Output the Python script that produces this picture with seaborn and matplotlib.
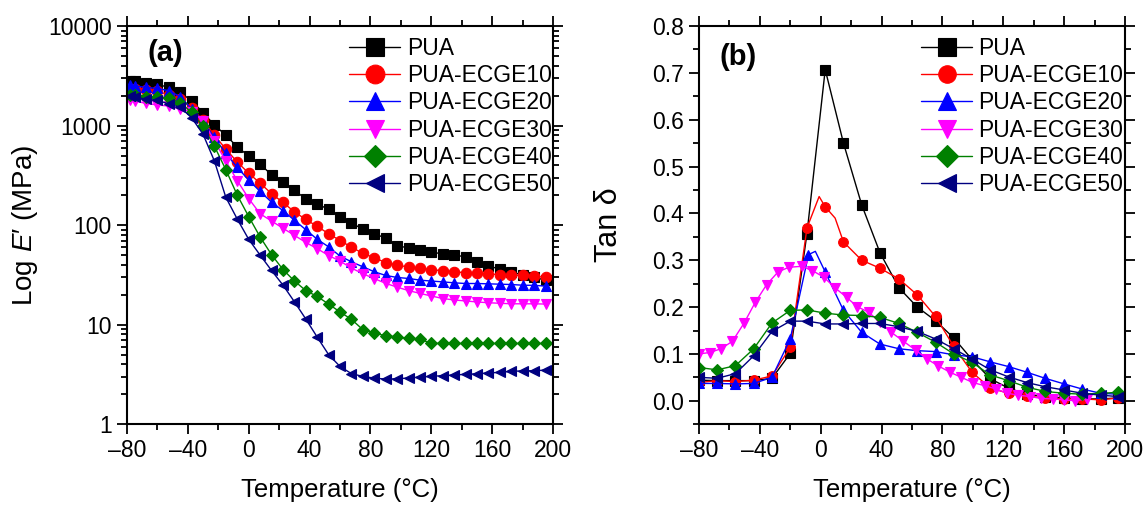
import matplotlib
matplotlib.use("Agg")
import matplotlib.pyplot as plt
from matplotlib.ticker import LogLocator, MultipleLocator, NullFormatter
import seaborn as sns

# ---------- donnees ----------
series_names = ["PUA", "PUA-ECGE10", "PUA-ECGE20", "PUA-ECGE30", "PUA-ECGE40", "PUA-ECGE50"]
colors = ["#000000", "#ff0000", "#0000ff", "#ff00ff", "#008000", "#000080"]
markers = ["s", "o", "^", "v", "D", "<"]

# (a) module de conservation E' (MPa)
temp_a = [-78, -74.5, -67.5, -60, -52.5, -45, -37.5, -30, -22.5, -15, -7.5, 0, 7.5, 15,
          22.5, 30, 37.5, 45, 52.5, 60, 67.5, 75, 82.5, 90, 97.5, 105, 112.5, 120,
          127.5, 135, 142.5, 150, 157.5, 165, 172.5, 180, 187.5, 195]
e_pua = [2830, 2800, 2690, 2590, 2420, 2150, 1780, 1350, 1010, 800, 610, 495, 410, 320,
         270, 223, 184, 163, 144, 121, 105, 91, 82, 74, 62, 59, 56, 54,
         51, 50, 48, 43, 39, 36, 34, 31.4, 29.8, 28]
e_10 = [2350, 2330, 2280, 2200, 2050, 1850, 1500, 1130, 800, 580, 430, 332, 264, 207,
        169, 136, 114, 97, 82, 70, 60, 52, 47, 42, 39.5, 38, 36.7, 35.8,
        34.7, 34, 33.2, 32.7, 32.2, 31.9, 31.4, 31.2, 30.7, 29.8]
e_20 = [2550, 2500, 2420, 2360, 2240, 1950, 1480, 1100, 760, 525, 380, 283, 218, 170,
        140, 112, 90, 72, 60.5, 48.8, 42.8, 38.1, 34, 31.2, 29.8, 29.1, 28, 27.4,
        26.9, 26.3, 25.9, 25.9, 25.7, 25.5, 25.3, 24.9, 24.8, 24.4]
e_30 = [1800, 1760, 1670, 1610, 1570, 1465, 1380, 1120, 700, 440, 280, 185, 130, 110,
        93, 79, 67, 58, 49.5, 43.5, 37, 32.5, 29, 26, 23.8, 22, 20.6, 19.4,
        18.3, 17.7, 17.3, 16.9, 16.6, 16.4, 16.2, 16.2, 16.2, 16.1]
e_40 = [2050, 2030, 1950, 1950, 1875, 1700, 1360, 980, 620, 360, 200, 122, 76, 50.5,
        35.8, 27.5, 22, 19.2, 16.1, 13.4, 11.3, 8.9, 8.3, 7.7, 7.55, 7.27, 7.1, 6.5,
        6.47, 6.47, 6.47, 6.47, 6.47, 6.47, 6.47, 6.47, 6.47, 6.47]
e_50 = [1970, 1950, 1830, 1800, 1645, 1525, 1200, 820, 440, 190, 115, 72, 50, 35,
        25, 17, 11.4, 7.5, 5.0, 3.8, 3.22, 3.02, 2.9, 2.84, 2.86, 2.91, 2.97, 3.03,
        3.07, 3.12, 3.17, 3.21, 3.27, 3.32, 3.40, 3.43, 3.45, 3.49]

# (b) tan delta
temp_b = [-80, -68, -56, -44, -32, -20, -9, 3, 15, 27, 39, 51.5, 63.5, 75.5, 87.5,
          99.5, 111.5, 123.5, 135.5, 147.5, 160, 172, 184, 195.5]
tan_pua = [0.044, 0.043, 0.043, 0.043, 0.048, 0.101, 0.357, 0.707, 0.550, 0.418, 0.316,
           0.241, 0.200, 0.171, 0.134, 0.088, 0.047, 0.027, 0.014, 0.009, 0.006, 0.004,
           0.004, 0.006]
temp_b10 = [-80, -68, -56, -44, -32, -20, -9, -1, 3, 9.5, 15, 27, 39, 51.5, 63.5, 75.5,
            87.5, 99.5, 111.5, 123.5, 135.5, 147.5, 160, 172, 184, 195.5]
tan_10 = [0.039, 0.043, 0.041, 0.044, 0.053, 0.114, 0.369, 0.436, 0.414, 0.390, 0.339,
          0.300, 0.283, 0.260, 0.226, 0.180, 0.116, 0.061, 0.027, 0.016, 0.010, 0.006,
          0.004, 0.004, 0.002, 0.006]
temp_b20 = [-80, -68, -56, -44, -32, -20, -8, -3.5, 3, 15, 27, 39, 51.5, 63.5, 75.5,
            87.5, 99.5, 111.5, 123.5, 135.5, 147.5, 160, 172, 184, 195.5]
tan_20 = [0.037, 0.037, 0.036, 0.037, 0.050, 0.132, 0.312, 0.319, 0.275, 0.193, 0.146,
          0.121, 0.111, 0.107, 0.105, 0.098, 0.094, 0.083, 0.073, 0.061, 0.048, 0.036,
          0.025, 0.016, 0.014]
temp_b30 = [-80, -73, -65.5, -58, -50.5, -43, -35.5, -28, -21, -12.5, -5.5, 2, 9.5, 17,
            24, 31.5, 39, 46.5, 54, 62.5, 70, 77, 85, 92.5, 100, 108, 115.5, 122.5,
            130, 137.5, 145, 152.5, 160, 167.5, 175]
tan_30 = [0.100, 0.103, 0.111, 0.127, 0.165, 0.210, 0.248, 0.275, 0.285, 0.287, 0.278,
          0.264, 0.241, 0.221, 0.201, 0.189, 0.168, 0.146, 0.128, 0.108, 0.089, 0.075,
          0.061, 0.050, 0.039, 0.032, 0.025, 0.016, 0.012, 0.009, 0.005, 0.004, 0.002,
          0.000, 0.004]
tan_40 = [0.071, 0.066, 0.075, 0.111, 0.166, 0.193, 0.194, 0.187, 0.183, 0.182, 0.178,
          0.165, 0.146, 0.125, 0.100, 0.082, 0.055, 0.043, 0.029, 0.020, 0.016, 0.014,
          0.016, 0.018]
tan_50 = [0.050, 0.048, 0.058, 0.096, 0.148, 0.170, 0.170, 0.164, 0.164, 0.165, 0.165,
          0.158, 0.148, 0.132, 0.111, 0.089, 0.066, 0.051, 0.039, 0.030, 0.023, 0.016,
          0.012, 0.009]

# points de courbe sans symbole (index des symboles)
marks_b10 = [i for i in range(len(temp_b10)) if i not in (7, 9)]
marks_b20 = [i for i in range(len(temp_b20)) if i != 7]

x_ticks = [-80, -40, 0, 40, 80, 120, 160, 200]
x_labels = ["\u201380", "\u201340", "0", "40", "80", "120", "160", "200"]
y_ticks_a = [1, 10, 100, 1000, 10000]
y_labels_a = ["1", "10", "100", "1000", "10000"]
y_ticks_b = [0.0, 0.1, 0.2, 0.3, 0.4, 0.5, 0.6, 0.7, 0.8]

# ---------- style ----------
sns.set_theme(style="ticks")
plt.rcParams["font.family"] = ["Liberation Sans", "DejaVu Sans"]
plt.rcParams["mathtext.fontset"] = "custom"
plt.rcParams["mathtext.it"] = "Liberation Sans:italic"
plt.rcParams["mathtext.rm"] = "Liberation Sans"
plt.rcParams["text.color"] = "black"
plt.rcParams["axes.labelcolor"] = "black"
plt.rcParams["xtick.color"] = "black"
plt.rcParams["ytick.color"] = "black"

FS = 16.5

fig = plt.figure(figsize=(11.43, 5.05), dpi=100)
ax_a = fig.add_axes([0.111, 0.160, 0.373, 0.7885])
ax_b = fig.add_axes([0.6115, 0.160, 0.3727, 0.7885])

data_a = [e_pua, e_10, e_20, e_30, e_40, e_50]
for name, vals, c, m in zip(series_names, data_a, colors, markers):
    ms = 6.5 if m == "D" else 7.5
    sns.lineplot(x=temp_a, y=vals, ax=ax_a, color=c, marker=m, markersize=ms,
                 markeredgecolor=c, markeredgewidth=0.8, linewidth=1.0,
                 estimator=None, label=name)

data_b = [(temp_b, tan_pua, None), (temp_b10, tan_10, marks_b10),
          (temp_b20, tan_20, marks_b20), (temp_b30, tan_30, None),
          (temp_b, tan_40, None), (temp_b, tan_50, None)]
for name, (tt, vals, mk), c, m in zip(series_names, data_b, colors, markers):
    ms = 6 if m == "D" else 7
    sns.lineplot(x=tt, y=vals, ax=ax_b, color=c, marker=m, markersize=ms,
                 markeredgecolor=c, markeredgewidth=0.8, linewidth=1.0,
                 markevery=mk, estimator=None, label=name)

# ---------- axes ----------
ax_a.set_yscale("log")
ax_a.set_ylim(1, 10000)
ax_a.set_yticks(y_ticks_a, y_labels_a)
ax_a.yaxis.set_minor_locator(LogLocator(base=10, subs=range(2, 10)))
ax_a.yaxis.set_minor_formatter(NullFormatter())
ax_a.set_ylabel("Log $E\u2032$ (MPa)", fontsize=20, labelpad=6)
ax_b.set_ylim(-0.05, 0.8)
ax_b.set_yticks(y_ticks_b, [f"{v:.1f}" for v in y_ticks_b])
ax_b.yaxis.set_minor_locator(MultipleLocator(0.05))
ax_b.set_ylabel("Tan \u03b4", fontsize=22, labelpad=20)

for ax, tag, ty in [(ax_a, "(a)", 0.932), (ax_b, "(b)", 0.922)]:
    ax.set_xlim(-80, 200)
    ax.set_xticks(x_ticks, x_labels)
    ax.xaxis.set_minor_locator(MultipleLocator(20))
    ax.set_xlabel("Temperature (\u00b0C)", fontsize=18.5, labelpad=11)
    ax.tick_params(which="both", direction="out", top=True, right=True,
                   labeltop=False, labelright=False, width=1.3, colors="black",
                   labelsize=FS)
    ax.tick_params(which="major", length=7, pad=4)
    ax.tick_params(which="minor", length=4)
    for sp in ax.spines.values():
        sp.set_visible(True)
        sp.set_linewidth(1.5)
        sp.set_color("black")
    ax.text(0.048, ty, tag, transform=ax.transAxes, fontsize=21,
            fontweight="bold", va="center", ha="left", color="black")
    leg = ax.legend(loc="upper left", bbox_to_anchor=(0.522, 0.972), frameon=False,
                    fontsize=FS, markerscale=1.8, handlelength=2.2,
                    handletextpad=0.3, labelspacing=0.18, borderaxespad=0,
                    borderpad=0, labelcolor="black")

fig.savefig("out.png", dpi=100)
